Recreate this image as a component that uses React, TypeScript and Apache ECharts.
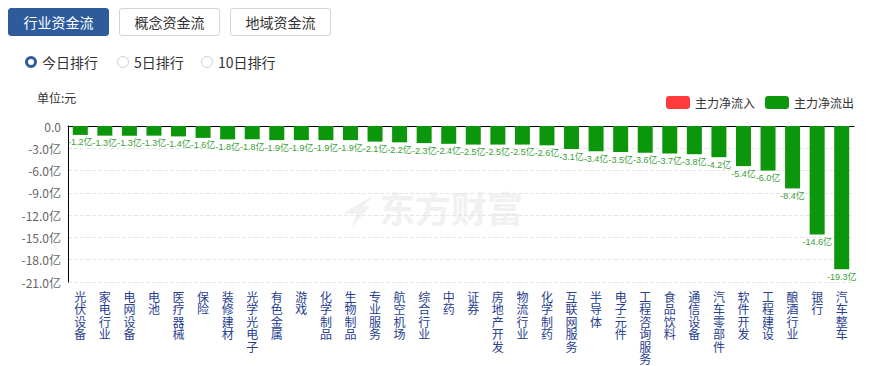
import React, { useEffect, useRef } from "react";
import * as echarts from "echarts";

const categories = [
  "光伏设备", "家电行业", "电网设备", "电池", "医疗器械", "保险", "装修建材", "光学光电子",
  "有色金属", "游戏", "化学制品", "生物制品", "专业服务", "航空机场", "综合行业", "中药",
  "证券", "房地产开发", "物流行业", "化学制药", "互联网服务", "半导体", "电子元件", "工程咨询服务",
  "食品饮料", "通信设备", "汽车零部件", "软件开发", "工程建设", "酿酒行业", "银行", "汽车整车",
];
const outflowValues = [
  -1.2, -1.3, -1.3, -1.3, -1.4, -1.6, -1.8, -1.8,
  -1.9, -1.9, -1.9, -1.9, -2.1, -2.2, -2.3, -2.4,
  -2.5, -2.5, -2.5, -2.6, -3.1, -3.4, -3.5, -3.6,
  -3.7, -3.8, -4.2, -5.4, -6.0, -8.4, -14.6, -19.3,
];
const inflowValues: (number | null)[] = categories.map(() => null);
const tabs = ["行业资金流", "概念资金流", "地域资金流"];
const rankings = ["今日排行", "5日排行", "10日排行"];

const FONT = '"Noto Sans CJK SC", "Microsoft YaHei", sans-serif';
const NUMFONT = '"Liberation Sans", "Noto Sans CJK SC", sans-serif';
const GREEN = "#0c960c";
const RED = "#fd3b3d";

function App() {
  const ref = useRef<HTMLDivElement>(null);
  useEffect(() => {
    if (!ref.current) return;
    const chart = echarts.init(ref.current, undefined, { renderer: "svg" });
    chart.setOption({
      animation: false,
      textStyle: { fontFamily: FONT },
      grid: { left: 68, right: 25, top: 126, bottom: 84 },
      legend: {
        right: 20,
        top: 91,
        itemWidth: 24,
        itemHeight: 13,
        itemGap: 10,
        textStyle: { fontSize: 12, color: "#333", fontFamily: FONT },
        data: [
          { name: "主力净流入", itemStyle: { color: RED } },
          { name: "主力净流出", itemStyle: { color: GREEN } },
        ],
      },
      graphic: [
        {
          type: "text",
          left: 37,
          top: 91,
          style: { text: "单位:元", fontSize: 12, fill: "#333", fontFamily: FONT },
        },
        {
          type: "text",
          left: 379,
          top: 189,
          z: -1,
          style: {
            text: "东方财富",
            fontSize: 36,
            fontWeight: "bold",
            fill: "#f1f1f1",
            fontFamily: FONT,
          },
        },
        {
          type: "polygon",
          z: -1,
          shape: {
            points: [[342, 214], [374, 195], [363, 206], [370, 206], [352, 228], [356, 214]],
          },
          style: { fill: "#f1f1f1" },
        },
      ],
      xAxis: [
        {
          type: "category",
          data: categories,
          position: "bottom",
          axisLine: { show: false, onZero: false },
          axisTick: { show: false },
          axisLabel: {
            interval: 0,
            margin: 8,
            color: "#27408f",
            fontSize: 12,
            lineHeight: 12.5,
            verticalAlign: "top",
            fontFamily: FONT,
            formatter: (v: string) => v.split("").join("\n"),
          },
        },
        {
          type: "category",
          data: categories,
          position: "top",
          axisLine: { show: true, lineStyle: { color: "#000", width: 1 } },
          axisTick: { show: false },
          axisLabel: { show: false },
        },
      ],
      yAxis: {
        type: "value",
        min: -21,
        max: 0,
        interval: 3,
        axisLine: { show: true, lineStyle: { color: "#000" } },
        axisTick: { show: false },
        splitLine: { show: true, lineStyle: { color: "#e6e6e6", type: "dashed" } },
        axisLabel: {
          color: "#666",
          fontSize: 12,
          margin: 7,
          fontFamily: FONT,
          formatter: (v: number) => (v === 0 ? "0.0" : v.toFixed(1) + "亿"),
        },
      },
      series: [
        {
          name: "主力净流入",
          type: "bar",
          stack: "a",
          barWidth: 15,
          data: inflowValues,
          itemStyle: { color: RED },
        },
        {
          name: "主力净流出",
          type: "bar",
          stack: "a",
          barWidth: 15,
          data: outflowValues,
          itemStyle: { color: GREEN },
          label: {
            show: true,
            position: "bottom",
            distance: 3,
            color: "#35a035",
            fontSize: 9,
            fontFamily: NUMFONT,
            formatter: (p: any) => p.value.toFixed(1) + "亿",
          },
        },
      ],
    });
    return () => chart.dispose();
  }, []);

  const tabLefts = [8, 119, 230];
  const radioLefts = [25, 117, 201];

  return (
    <div style={{ position: "fixed", left: 0, top: 0, width: 879, height: 366, background: "#fff", fontFamily: FONT }}>
      <div ref={ref} style={{ position: "absolute", left: 0, top: 0, width: 879, height: 366 }} />
      {tabs.map((t, i) => (
        <div
          key={t}
          style={{
            position: "absolute",
            left: tabLefts[i],
            top: 8,
            width: 101,
            height: 28,
            boxSizing: "border-box",
            borderRadius: 3,
            border: i === 0 ? "1px solid #2d5b9c" : "1px solid #cfd5dd",
            background: i === 0 ? "#2d5b9c" : "#fff",
            color: i === 0 ? "#fff" : "#333",
            fontSize: 14,
            lineHeight: "26px",
            textAlign: "center",
          }}
        >
          {t}
        </div>
      ))}
      {rankings.map((r, i) => (
        <div
          key={r}
          style={{ position: "absolute", left: radioLefts[i], top: 52, height: 20, display: "flex", alignItems: "center", fontSize: 14, color: "#333" }}
        >
          <span
            style={{
              display: "inline-block",
              width: 12,
              height: 12,
              boxSizing: "border-box",
              borderRadius: "50%",
              border: i === 0 ? "3.5px solid #2d5b9c" : "1px solid #ccd3dc",
              background: "#fff",
              marginRight: 5,
            }}
          />
          <span>{r}</span>
        </div>
      ))}
    </div>
  );
}

export default App;
